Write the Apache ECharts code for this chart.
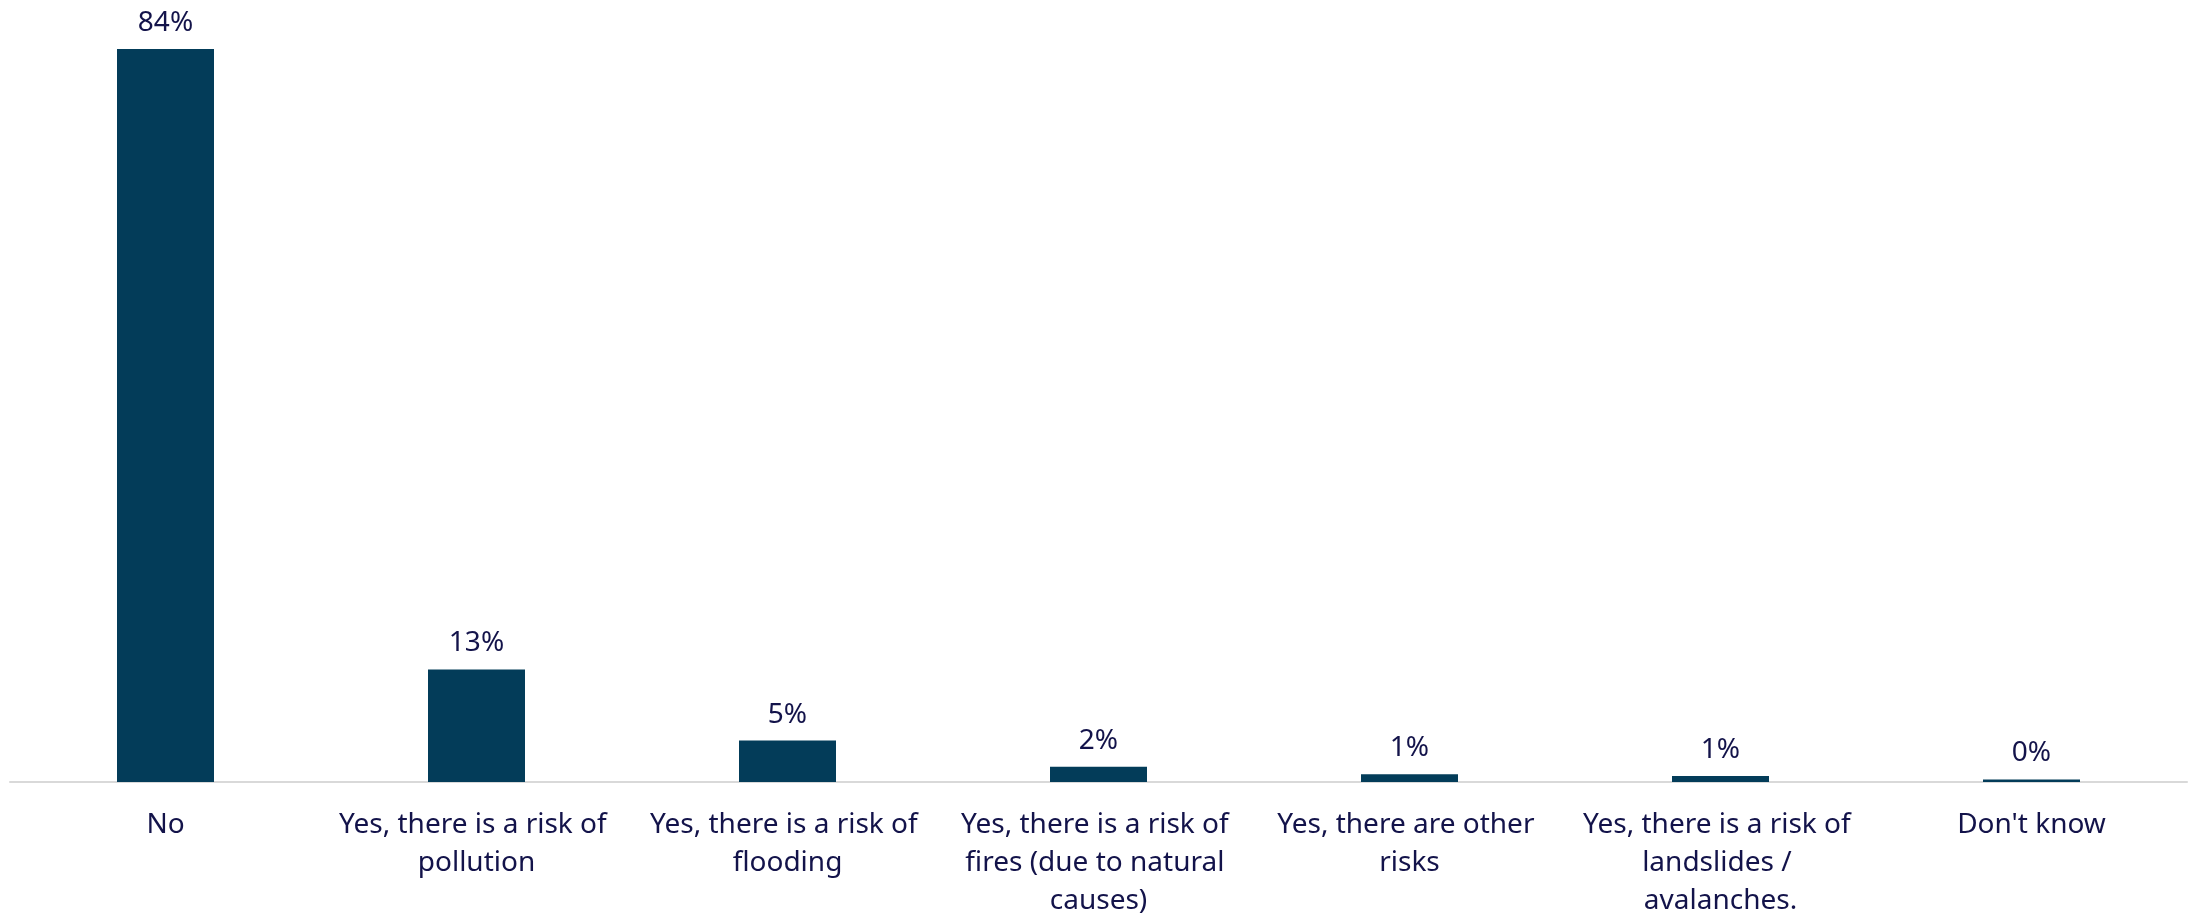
<!DOCTYPE html>
<html>
<head>
<meta charset="utf-8">
<script src="https://cdn.jsdelivr.net/npm/echarts@6/dist/echarts.min.js"></script>
<style>
html,body{margin:0;padding:0;background:#fff;}
#chart{width:2199px;height:913px;}
</style>
</head>
<body>
<div id="chart"></div>
<script>
const categories = [
  "No",
  "Yes, there is a risk of pollution",
  "Yes, there is a risk of flooding",
  "Yes, there is a risk of fires (due to natural causes)",
  "Yes, there are other risks",
  "Yes, there is a risk of landslides / avalanches.",
  "Don't know"
];
const values = [84, 12.9, 4.75, 1.75, 0.9, 0.7, 0.3];
const valueLabels = ["84%", "13%", "5%", "2%", "1%", "1%", "0%"];

const chart = echarts.init(document.getElementById('chart'));
chart.setOption({
  animation: false,
  grid: { left: 10, right: 12, top: 49, bottom: 131, containLabel: false, outerBoundsMode: 'none' },
  xAxis: {
    type: 'category',
    data: categories,
    axisLine: { lineStyle: { color: '#d9d9d9', width: 2 } },
    axisTick: { show: false },
    axisLabel: {
      interval: 0,
      margin: 24,
      color: '#13134a',
      fontFamily: 'Noto Sans',
      fontSize: 28,
      lineHeight: 38,
      width: 296,
      overflow: 'break'
    }
  },
  yAxis: {
    type: 'value',
    min: 0,
    max: 84,
    show: false,
    splitLine: { show: false }
  },
  series: [{
    type: 'bar',
    data: values,
    barWidth: 97,
    itemStyle: { color: '#033c59' },
    label: {
      show: true,
      position: 'top',
      distance: 12,
      color: '#13134a',
      fontFamily: 'Noto Sans',
      fontSize: 28,
      formatter: p => valueLabels[p.dataIndex]
    }
  }]
});
</script>
</body>
</html>
